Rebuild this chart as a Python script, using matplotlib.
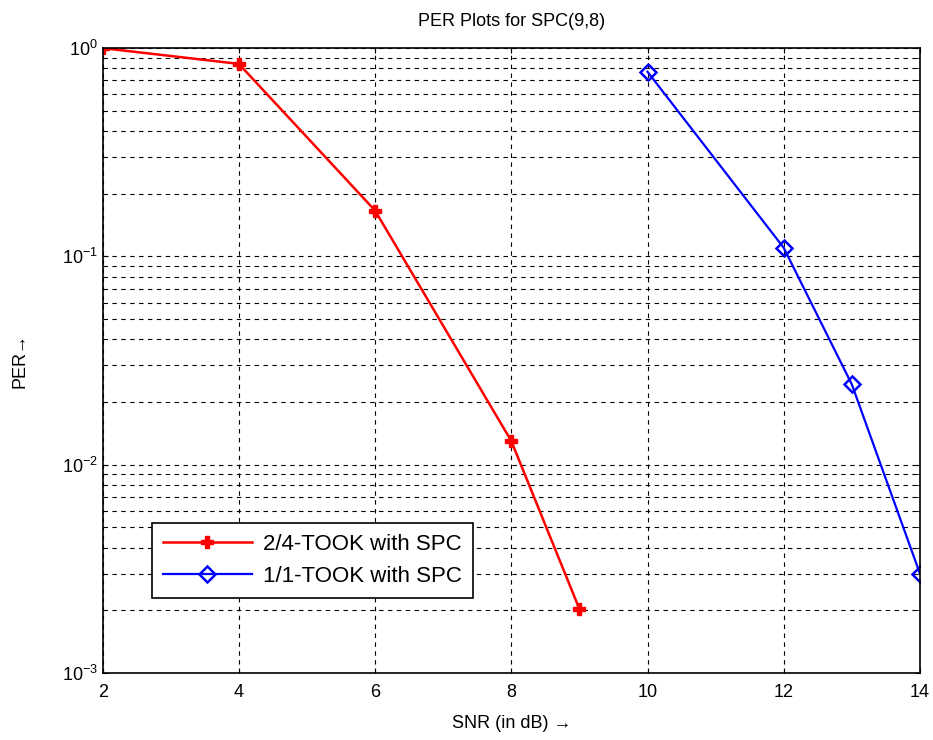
import matplotlib

matplotlib.use("Agg")
import matplotlib.pyplot as plt
from matplotlib.ticker import LogLocator, NullFormatter

# PER vs SNR
snr_took24 = [2, 4, 6, 8, 9]
per_took24 = [1.0, 0.84, 0.166, 0.013, 0.00203]
snr_took11 = [10, 12, 13, 14]
per_took11 = [0.77, 0.11, 0.0243, 0.0030]
labels = ["2/4-TOOK with SPC", "1/1-TOOK with SPC"]

plt.rcParams["font.family"] = ["Liberation Sans", "DejaVu Sans"]
plt.rcParams["font.size"] = 12
plt.rcParams["mathtext.fontset"] = "custom"
plt.rcParams["mathtext.rm"] = "Liberation Sans"

fig = plt.figure(figsize=(9.33, 7.4), dpi=100)
ax = fig.add_axes([0.110, 0.0905, 0.876, 0.8445])

ax.semilogy(snr_took24, per_took24, color="red", lw=1.8, marker="P",
            ms=8, mec="red", mfc="red", label=labels[0])
ax.semilogy(snr_took11, per_took11, color="blue", lw=1.6, marker="D",
            ms=8, mec="blue", mfc="none", mew=1.8, label=labels[1])

ax.set_xlim(2, 14)
ax.set_ylim(1e-3, 1)
ax.set_xticks(range(2, 15, 2))
ax.yaxis.set_major_locator(LogLocator(base=10, numticks=10))
ax.yaxis.set_minor_locator(LogLocator(base=10, subs=range(2, 10), numticks=10))
ax.yaxis.set_minor_formatter(NullFormatter())

ax.grid(True, which="both", color="black", ls=(0, (4, 4)), lw=0.8)
ax.tick_params(which="both", direction="in", top=True, right=True,
               labelsize=13)
ax.tick_params(axis="x", pad=8)
ax.tick_params(which="minor", length=3)
for s in ax.spines.values():
    s.set_linewidth(1.2)

ax.set_title("PER Plots for SPC(9,8)", fontsize=13, pad=16)
ax.set_xlabel("SNR (in dB) \u2192", fontsize=13, labelpad=10)
ax.set_ylabel("PER\u2192", fontsize=13, labelpad=24)

leg = ax.legend(loc="lower left", bbox_to_anchor=(0.06, 0.12), fontsize=16,
                fancybox=False, framealpha=1, edgecolor="black",
                handlelength=4.0, borderpad=0.5, borderaxespad=0,
                handletextpad=0.5, labelspacing=0.5)
leg.get_frame().set_linewidth(1.2)

fig.savefig("out.png", dpi=100)
